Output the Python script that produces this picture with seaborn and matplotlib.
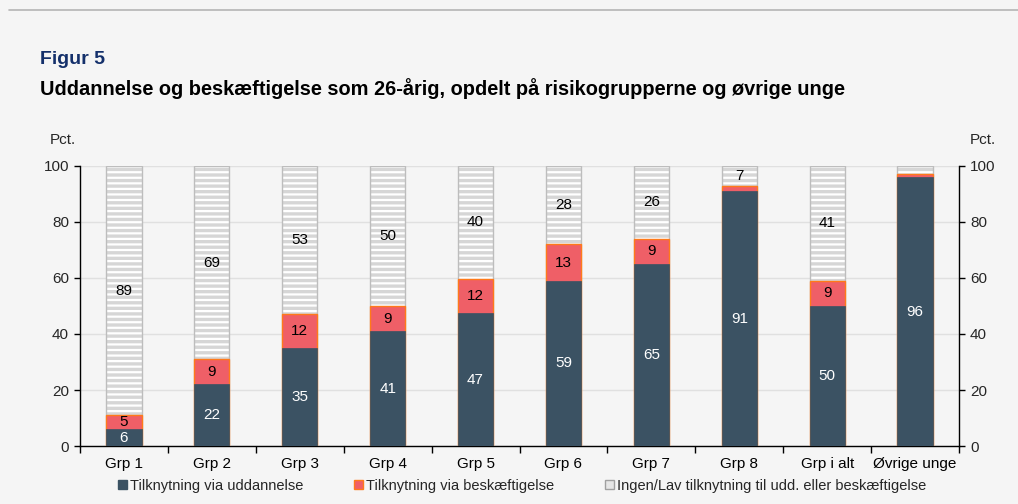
import matplotlib
matplotlib.use("Agg")
import matplotlib.pyplot as plt
from matplotlib.patches import Patch
from matplotlib.lines import Line2D
import seaborn as sns
import pandas as pd
import numpy as np

categories = ["Grp 1", "Grp 2", "Grp 3", "Grp 4", "Grp 5", "Grp 6", "Grp 7", "Grp 8", "Grp i alt", "Øvrige unge"]
uddannelse = [6, 22, 35, 41, 47.4, 59, 65, 91, 50, 96]
beskaeftigelse = [5, 9, 12, 9, 12.4, 13, 9, 2, 9, 1]
ingen = [89, 69, 53, 50, 40.2, 28, 26, 7, 41, 3]
series_names = ["Tilknytning via uddannelse", "Tilknytning via beskæftigelse",
                "Ingen/Lav tilknytning til udd. eller beskæftigelse"]
yticks = [0, 20, 40, 60, 80, 100]

sns.set_theme(style="white")
plt.rcParams['font.family'] = ['Liberation Sans', 'DejaVu Sans']
plt.rcParams['hatch.linewidth'] = 2.4

BG = "#f5f5f5"
DARK = "#3b5263"
RED = "#ef5f67"
RED_EDGE = "#ff7a1a"
HATCH = "#d6d6d6"
OUTLINE = "#bdbdbd"

fig = plt.figure(figsize=(10.18, 5.04), dpi=100, facecolor=BG)
ax = fig.add_axes([80/1018, 1-446/504, 879/1018, 280/504])
ax.set_facecolor(BG)

df = pd.DataFrame({"cat": categories, "udd": uddannelse, "besk": beskaeftigelse, "ingen": ingen})
df["c2"] = df["udd"] + df["besk"]
df["c3"] = df["c2"] + df["ingen"]

W = 0.4
# gray striped layer (total)
sns.barplot(data=df, x="cat", y="c3", ax=ax, color="white", width=W, saturation=1,
            edgecolor=HATCH, linewidth=0, hatch="---", zorder=2)
# outline of gray layer
sns.barplot(data=df, x="cat", y="c3", ax=ax, fill=False, width=W, saturation=1,
            edgecolor=OUTLINE, linewidth=1.0, zorder=3)
# red layer
sns.barplot(data=df, x="cat", y="c2", ax=ax, color=RED, width=W, saturation=1,
            edgecolor=RED_EDGE, linewidth=1.0, zorder=4)
# dark layer
sns.barplot(data=df, x="cat", y="udd", ax=ax, color=DARK, width=W, saturation=1,
            edgecolor=DARK, linewidth=0.5, zorder=5)

# value labels
for i in range(len(categories)):
    u, b, g = uddannelse[i], beskaeftigelse[i], ingen[i]
    if u >= 5:
        ax.text(i, u/2, f"{u:.0f}", ha="center", va="center", color="white", fontsize=11, zorder=10)
    if b >= 5:
        ax.text(i, u + b/2, f"{b:.0f}", ha="center", va="center", color="black", fontsize=11, zorder=10)
    if g >= 5:
        ax.text(i, u + b + g/2, f"{g:.0f}", ha="center", va="center", color="black", fontsize=11, zorder=10)

ax.set_xlim(-0.5, len(categories) - 0.5)
ax.set_ylim(0, 100)
ax.set_yticks(yticks)
ax.set_xlabel("")
ax.set_ylabel("")
ax.grid(axis="y", color="#e0e0e0", linewidth=1, zorder=0)
ax.set_axisbelow(True)
ax.spines["top"].set_visible(False)
for s in ["left", "bottom", "right"]:
    ax.spines[s].set_visible(True)
    ax.spines[s].set_color("black")
    ax.spines[s].set_linewidth(1.0)

ax.tick_params(axis="y", which="major", direction="out", length=4, width=1, color="black",
               labelsize=11, left=True, right=True, labelleft=True, labelright=True, pad=4)
ax.set_xticks(range(len(categories)))
ax.set_xticklabels(categories)
ax.tick_params(axis="x", which="major", length=0, labelsize=11, pad=8, colors="black")
ax.set_xticks(np.arange(-0.5, len(categories) + 0.5, 1), minor=True)
ax.tick_params(axis="x", which="minor", direction="out", length=5, width=1, color="black", bottom=True)

fig.text(50/1018, 1-140/504, "Pct.", ha="left", va="center", fontsize=11)
fig.text(970/1018, 1-140/504, "Pct.", ha="left", va="center", fontsize=11)

fig.text(40/1018, 1-60/504, "Figur 5", ha="left", va="center", fontsize=14, fontweight="bold", color="#14306b")
fig.text(40/1018, 1-89/504, "Uddannelse og beskæftigelse som 26-årig, opdelt på risikogrupperne og øvrige unge",
         ha="left", va="center", fontsize=14.4, fontweight="bold", color="black")

fig.add_artist(Line2D([9/1018, 1], [1-10/504, 1-10/504], color="#b5b5b5", linewidth=1.2))

handles = [Patch(facecolor=DARK, edgecolor=DARK),
           Patch(facecolor=RED, edgecolor=RED_EDGE),
           Patch(facecolor="#e6e6e6", edgecolor="#a0a0a0")]
fig.legend(handles, series_names, loc="center", bbox_to_anchor=(522/1018, 1-486/504), ncol=3,
           frameon=False, fontsize=10.5, handlelength=0.6, handleheight=0.6, handletextpad=0.2,
           columnspacing=3.5)

fig.savefig("out.png", dpi=100, facecolor=BG)
